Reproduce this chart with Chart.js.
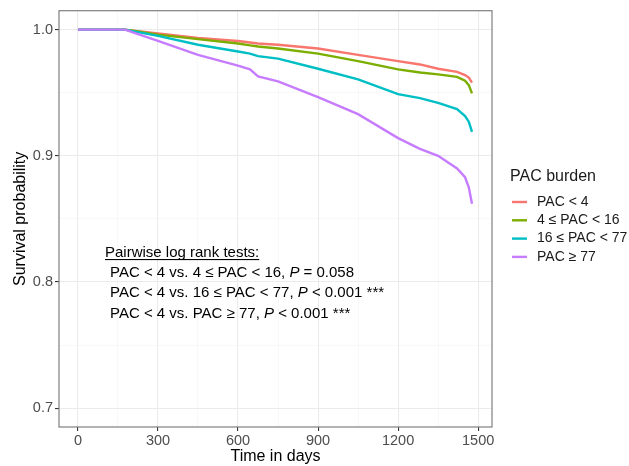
<!DOCTYPE html>
<html>
<head>
<meta charset="utf-8">
<script src="https://cdn.jsdelivr.net/npm/chart.js@4"></script>
<style>
  body { margin: 0; background: #fff; }
  #wrap { width: 629px; height: 466px; }
</style>
</head>
<body>
<div id="wrap"><canvas id="km"></canvas></div>
<script>
// follow-up time (days) and survival estimates
const days = [0, 176, 225, 300, 450, 600, 645, 675, 750, 900, 1050, 1200, 1282, 1350, 1421, 1451, 1465, 1477];
const survLt4 = [1, 1, 0.9988, 0.9969, 0.9935, 0.991, 0.9898, 0.989, 0.988, 0.985, 0.980, 0.975, 0.9724, 0.969, 0.9665, 0.964, 0.962, 0.958];
const surv4to16 = [1, 1, 0.9985, 0.996, 0.9925, 0.989, 0.9875, 0.9866, 0.985, 0.981, 0.975, 0.9685, 0.966, 0.9645, 0.9625, 0.9595, 0.956, 0.9495];
const surv16to77 = [1, 1, 0.998, 0.995, 0.988, 0.9827, 0.981, 0.979, 0.977, 0.969, 0.9606, 0.9488, 0.9457, 0.942, 0.937, 0.9315, 0.927, 0.919];
const survGe77 = [1, 1, 0.9965, 0.991, 0.980, 0.9715, 0.9685, 0.963, 0.959, 0.9465, 0.933, 0.914, 0.9055, 0.900, 0.890, 0.883, 0.875, 0.862];

const groupLabels = ["PAC < 4", "4 ≤ PAC < 16", "16 ≤ PAC < 77", "PAC ≥ 77"];
const groupColors = ["#F8766D", "#7CAE00", "#00BFC4", "#C77CFF"];
const xTicks = [0, 150, 300, 450, 600, 750, 900, 1050, 1200, 1350, 1500];
const yTicks = [0.7, 0.75, 0.8, 0.85, 0.9, 0.95, 1.0];

const font = "'Liberation Sans', Arial, sans-serif";
const series = [survLt4, surv4to16, surv16to77, survGe77];

const isMajorX = v => v % 300 === 0;
const isMajorY = v => Math.abs(v * 10 - Math.round(v * 10)) < 1e-6;

// panel border, legend and the log-rank annotation
const extras = {
  id: "extras",
  afterDraw(chart) {
    const c = chart.ctx;
    const a = chart.chartArea;
    c.save();
    c.strokeStyle = "#7f7f7f";
    c.lineWidth = 1.2;
    c.strokeRect(a.left, a.top, a.right - a.left, a.bottom - a.top);

    // legend
    c.fillStyle = "#1a1a1a";
    c.textBaseline = "middle";
    c.font = "16px " + font;
    c.fillText("PAC burden", 510, 177);
    c.font = "14px " + font;
    groupLabels.forEach((lab, i) => {
      const y = 202 + i * 18.3;
      c.strokeStyle = groupColors[i];
      c.lineWidth = 2.4;
      c.beginPath();
      c.moveTo(512, y);
      c.lineTo(527, y);
      c.stroke();
      c.fillStyle = "#1a1a1a";
      c.fillText(lab, 537, y);
    });

    // annotation
    c.fillStyle = "#000";
    c.textBaseline = "alphabetic";
    c.font = "15px " + font;
    const head = "Pairwise log rank tests:";
    c.fillText(head, 105, 257);
    const w = c.measureText(head).width;
    c.fillRect(105, 259, w, 1.1);
    const lines = [
      ["PAC < 4 vs. 4 ≤ PAC < 16, ", "P", " = 0.058"],
      ["PAC < 4 vs. 16 ≤ PAC < 77, ", "P", " < 0.001 ***"],
      ["PAC < 4 vs. PAC ≥ 77, ", "P", " < 0.001 ***"]
    ];
    lines.forEach((parts, i) => {
      let x = 110;
      const y = 277 + i * 20.3;
      parts.forEach((p, j) => {
        c.font = (j === 1 ? "italic " : "") + "15px " + font;
        c.fillText(p, x, y);
        x += c.measureText(p).width;
      });
    });
    c.restore();
  }
};

new Chart(document.getElementById("km"), {
  type: "line",
  data: {
    datasets: series.map((vals, i) => ({
      label: groupLabels[i],
      data: days.map((d, k) => ({ x: d, y: vals[k] })),
      borderColor: groupColors[i],
      borderWidth: 2.4,
      pointRadius: 0,
      tension: 0,
      fill: false,
      order: 3 - i
    }))
  },
  options: {
    responsive: true,
    maintainAspectRatio: false,
    animation: false,
    layout: { padding: { top: 9, right: 137, left: 0, bottom: 0 } },
    plugins: { legend: { display: false }, tooltip: { enabled: false } },
    scales: {
      x: {
        type: "linear",
        min: -71,
        max: 1552,
        afterBuildTicks: s => { s.ticks = xTicks.map(v => ({ value: v })); },
        afterFit: s => { s.height = 39; },
        grid: {
          color: ctx => isMajorX(ctx.tick.value) ? "#ebebeb" : "#f4f4f4",
          lineWidth: ctx => isMajorX(ctx.tick.value) ? 1.1 : 0.6,
          tickColor: ctx => isMajorX(ctx.tick.value) ? "#333" : "rgba(0,0,0,0)",
          tickLength: 4,
          drawOnChartArea: true
        },
        border: { display: false },
        ticks: {
          autoSkip: false,
          maxRotation: 0,
          padding: 1,
          color: "#4d4d4d",
          font: { family: font, size: 14.5 },
          callback: v => isMajorX(v) ? String(v) : ""
        },
        title: {
          display: true,
          text: "Time in days",
          color: "#000",
          font: { family: font, size: 16 },
          padding: { top: -2, bottom: 0 }
        }
      },
      y: {
        min: 0.685,
        max: 1.015,
        afterBuildTicks: s => { s.ticks = yTicks.map(v => ({ value: v })); },
        afterFit: s => { s.width = 59; },
        grid: {
          color: ctx => isMajorY(ctx.tick.value) ? "#ebebeb" : "#f4f4f4",
          lineWidth: ctx => isMajorY(ctx.tick.value) ? 1.1 : 0.6,
          tickColor: ctx => isMajorY(ctx.tick.value) ? "#333" : "rgba(0,0,0,0)",
          tickLength: 4
        },
        border: { display: false },
        ticks: {
          autoSkip: false,
          padding: 2,
          color: "#4d4d4d",
          font: { family: font, size: 14.5 },
          callback: v => isMajorY(v) ? v.toFixed(1) : ""
        },
        title: {
          display: true,
          text: "Survival probability",
          color: "#000",
          font: { family: font, size: 16 },
          padding: { top: 11, bottom: 0 }
        }
      }
    }
  },
  plugins: [extras]
});
</script>
</body>
</html>
